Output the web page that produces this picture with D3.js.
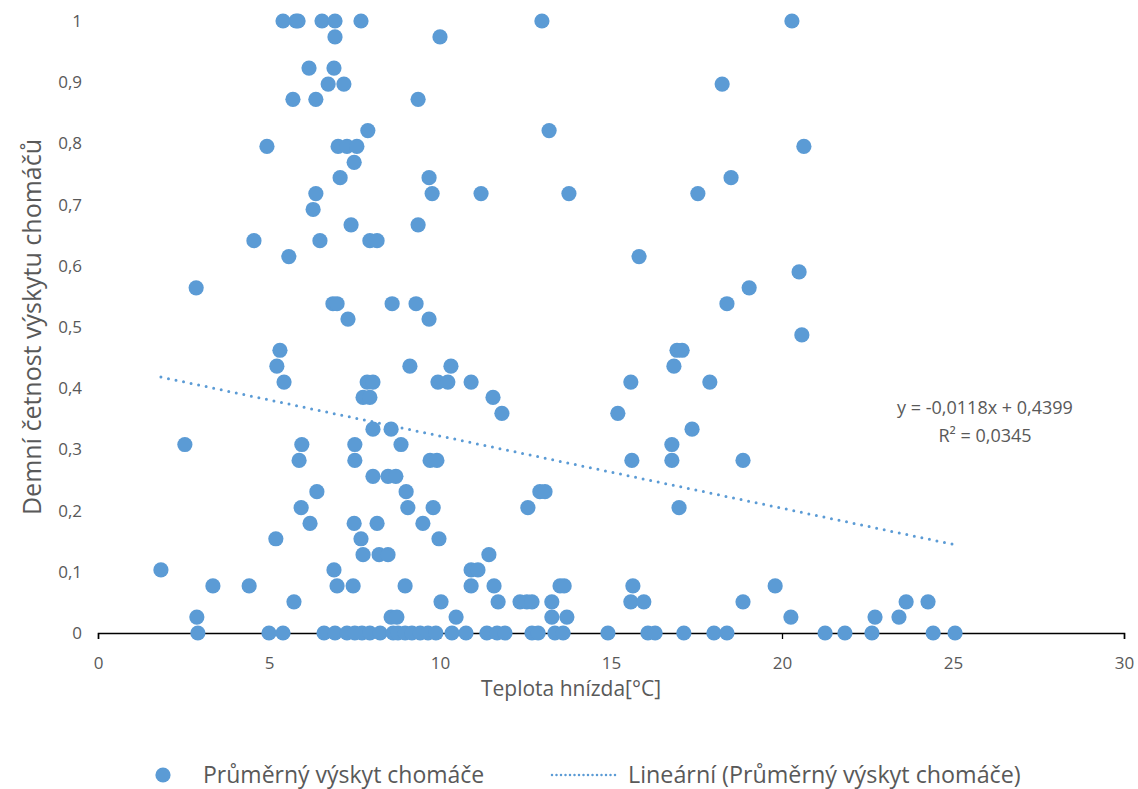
<!DOCTYPE html>
<html><head><meta charset="utf-8">
<script src="https://cdn.jsdelivr.net/npm/d3@7"></script>
<style>body{margin:0;background:#fff}svg{display:block}text{font-family:"Open Sans","Noto Sans",sans-serif;fill:#595959}</style>
</head><body><svg id="c" width="1138" height="789"></svg>
<script>
// Data: nest temperature [°C] and daily frequency of tuft occurrence
const temperature = [
 5.41,5.79,5.85,6.55,6.93,7.69,12.98,20.29,
 6.93,10.00,
 6.17,6.90,
 6.73,7.19,18.25,
 5.70,6.37,9.36,
 7.89,13.19,
 4.94,7.02,7.28,7.57,20.64,
 7.49,
 7.08,9.68,18.51,
 6.37,9.77,11.20,13.77,17.54,
 6.29,
 7.40,9.36,
 4.56,6.49,7.95,8.16,
 5.58,15.82,
 20.50,
 2.87,19.04,
 6.87,6.99,8.60,9.30,18.39,
 7.31,9.68,
 20.58,
 5.32,16.93,17.08,
 5.23,9.12,10.32,16.84,
 5.44,7.87,8.04,9.94,10.23,10.91,15.58,17.89,
 7.75,7.95,11.55,
 11.81,15.20,
 8.04,8.57,17.37,
 2.54,5.96,7.51,8.86,16.78,
 5.88,7.51,9.71,9.91,15.61,16.78,18.86,
 8.04,8.48,8.71,
 6.40,9.01,12.92,13.07,
 5.94,9.06,9.80,12.57,16.99,
 6.20,7.49,8.16,9.50,
 5.20,7.69,9.97,
 7.75,8.22,8.48,11.43,
 1.84,6.90,10.91,11.11,
 3.36,4.42,6.99,7.46,8.98,10.91,11.58,13.51,13.63,15.64,19.80,
 5.73,10.03,11.70,12.34,12.54,12.69,13.27,15.58,15.96,18.86,23.63,24.27,
 2.89,8.57,8.74,10.47,13.27,13.71,20.26,22.72,23.42,
 2.92,5.00,5.41,6.61,6.93,7.28,7.51,7.72,7.95,8.25,8.63,8.77,8.98,9.18,9.42,9.65,9.88,
 10.35,10.76,11.37,11.67,11.90,12.69,12.87,13.36,13.60,14.91,16.08,16.29,17.13,18.01,18.39,
 21.26,21.84,22.63,24.42,25.06
];
const frequency = [
 1,1,1,1,1,1,1,1,
 0.974,0.974,
 0.923,0.923,
 0.897,0.897,0.897,
 0.872,0.872,0.872,
 0.821,0.821,
 0.795,0.795,0.795,0.795,0.795,
 0.769,
 0.744,0.744,0.744,
 0.718,0.718,0.718,0.718,0.718,
 0.692,
 0.667,0.667,
 0.641,0.641,0.641,0.641,
 0.615,0.615,
 0.590,
 0.564,0.564,
 0.538,0.538,0.538,0.538,0.538,
 0.513,0.513,
 0.487,
 0.462,0.462,0.462,
 0.436,0.436,0.436,0.436,
 0.410,0.410,0.410,0.410,0.410,0.410,0.410,0.410,
 0.385,0.385,0.385,
 0.359,0.359,
 0.333,0.333,0.333,
 0.308,0.308,0.308,0.308,0.308,
 0.282,0.282,0.282,0.282,0.282,0.282,0.282,
 0.256,0.256,0.256,
 0.231,0.231,0.231,0.231,
 0.205,0.205,0.205,0.205,0.205,
 0.179,0.179,0.179,0.179,
 0.154,0.154,0.154,
 0.128,0.128,0.128,0.128,
 0.103,0.103,0.103,0.103,
 0.077,0.077,0.077,0.077,0.077,0.077,0.077,0.077,0.077,0.077,0.077,
 0.051,0.051,0.051,0.051,0.051,0.051,0.051,0.051,0.051,0.051,0.051,0.051,
 0.026,0.026,0.026,0.026,0.026,0.026,0.026,0.026,0.026,
 0,0,0,0,0,0,0,0,0,0,0,0,0,0,0,0,0,
 0,0,0,0,0,0,0,0,0,0,0,0,0,0,0,0,
 0,0,0,0,0
];
const xTicks = [0,5,10,15,20,25,30];
const yTicks = [0,0.1,0.2,0.3,0.4,0.5,0.6,0.7,0.8,0.9,1];
const trendSlope = -0.0118, trendIntercept = 0.4399;
const equationLabel = "y = -0,0118x + 0,4399";
const r2Label = "R² = 0,0345";
const xTitle = "Teplota hnízda[°C]";
const yTitle = "Demní četnost výskytu chomáčů";
const seriesName = "Průměrný výskyt chomáče";
const trendName = "Lineární (Průměrný výskyt chomáče)";

const color = "#5B9BD5";
const svg = d3.select("#c");
const x = d3.scaleLinear().domain([0,30]).range([98,1124]);
const y = d3.scaleLinear().domain([0,1]).range([633,21]);
const fmt = v => String(+v.toFixed(1)).replace(".", ",");

// x axis
const xa = svg.append("g").attr("transform","translate(0,633)")
  .call(d3.axisBottom(x).tickValues(xTicks).tickSize(6).tickPadding(18).tickFormat(d=>d));
xa.select(".domain").attr("stroke","#000").attr("stroke-width",1.5);
xa.selectAll(".tick line").attr("stroke","#000").attr("stroke-width",1.3);
xa.selectAll("text").style("font-size","17px").attr("fill","#595959");

// y axis (labels only)
const ya = svg.append("g").attr("transform","translate(98,0)")
  .call(d3.axisLeft(y).tickValues(yTicks).tickSize(0).tickPadding(16).tickFormat(fmt));
ya.select(".domain").remove();
ya.selectAll("text").style("font-size","17px").attr("fill","#595959");

// points
const pts = temperature.map((t,i)=>({t, f: frequency[i]}));
svg.append("g").selectAll("circle").data(pts).join("circle")
  .attr("cx", d=>x(d.t)).attr("cy", d=>y(d.f)).attr("r",7.6)
  .attr("fill", color);

// trendline
const [tmin, tmax] = d3.extent(temperature);
svg.append("line")
  .attr("x1", x(tmin)).attr("y1", y(trendSlope*tmin+trendIntercept))
  .attr("x2", x(tmax)).attr("y2", y(trendSlope*tmax+trendIntercept))
  .attr("stroke", color).attr("stroke-width", 3).attr("stroke-linecap","round")
  .attr("stroke-dasharray","0 7.7");

// equation
svg.append("text").attr("x",985).attr("y",414).attr("text-anchor","middle").style("font-size","18px").text(equationLabel);
svg.append("text").attr("x",985).attr("y",442).attr("text-anchor","middle").style("font-size","18px").text(r2Label);

// axis titles
svg.append("text").attr("x",571).attr("y",696).attr("text-anchor","middle").style("font-size","21px").text(xTitle);
svg.append("text").attr("transform","translate(41,327) rotate(-90)").attr("text-anchor","middle").style("font-size","25px").text(yTitle);

// legend
svg.append("circle").attr("cx",163).attr("cy",775).attr("r",7.6).attr("fill",color);
svg.append("text").attr("x",203).attr("y",783).style("font-size","23px").text(seriesName);
svg.append("line").attr("x1",552).attr("x2",619).attr("y1",775).attr("y2",775)
  .attr("stroke",color).attr("stroke-width",2.5).attr("stroke-linecap","round").attr("stroke-dasharray","0 4.5");
svg.append("text").attr("x",628).attr("y",783).style("font-size","23.3px").text(trendName);
</script></body></html>
